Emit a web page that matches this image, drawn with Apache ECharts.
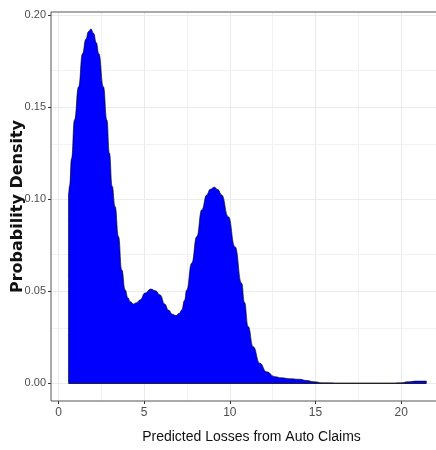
<!DOCTYPE html>
<html>
<head>
<meta charset="utf-8">
<script src="https://cdn.jsdelivr.net/npm/echarts@6/dist/echarts.min.js"></script>
<style>
html,body{margin:0;padding:0;background:#fff;}
#chart{width:436px;height:450px;}
</style>
</head>
<body>
<div id="chart"></div>
<script>
// Predicted losses (x) and estimated density (y)
var lossX = [0.58, 0.58, 0.64, 0.76, 0.93, 1.17, 1.40, 1.60, 1.75, 1.89, 2.05, 2.20, 2.35, 2.62, 2.82, 2.97, 3.13, 3.30, 3.50, 3.69, 3.89, 4.05, 4.18, 4.37, 4.55, 4.76, 5.05, 5.38, 5.65, 5.93, 6.20, 6.41, 6.65, 6.86, 7.05, 7.19, 7.35, 7.48, 7.77, 8.07, 8.36, 8.65, 8.85, 9.09, 9.30, 9.52, 9.91, 10.30, 10.69, 10.85, 11.07, 11.36, 11.75, 12.14, 12.63, 13.0, 13.5, 14.08, 14.5, 14.86, 15.44, 16.5, 18.0, 19.5, 20.0, 20.4, 20.9, 21.47, 21.47];
var densityY = [0, 0.103, 0.107, 0.122, 0.143, 0.161, 0.179, 0.187, 0.191, 0.1924, 0.190, 0.185, 0.179, 0.161, 0.143, 0.125, 0.107, 0.096, 0.0797, 0.0616, 0.0507, 0.0465, 0.0444, 0.0431, 0.0438, 0.0453, 0.0490, 0.0512, 0.0503, 0.0480, 0.0430, 0.0398, 0.0375, 0.0368, 0.0380, 0.0398, 0.0450, 0.0507, 0.0652, 0.0797, 0.0942, 0.1023, 0.1053, 0.1065, 0.1052, 0.1023, 0.0905, 0.0742, 0.0543, 0.0440, 0.0308, 0.0199, 0.0109, 0.0063, 0.0036, 0.0030, 0.0025, 0.0022, 0.0015, 0.0009, 0.0003, 0.0002, 0.0002, 0.0002, 0.0003, 0.0008, 0.0012, 0.0012, 0];
var xTicks = [0, 5, 10, 15, 20];
var xMinor = [2.5, 7.5, 12.5, 17.5, 22.5];
var yTicks = [0, 0.05, 0.10, 0.15, 0.20];
var yMinor = [0.025, 0.075, 0.125, 0.175];
var xTitle = 'Predicted Losses from Auto Claims';
var yTitle = 'Probability Density';

var sans = "'Liberation Sans', Arial, sans-serif";
var points = lossX.map(function (x, i) { return [x, densityY[i]]; });

var gridLines = [];
xMinor.forEach(function (v) { gridLines.push({ xAxis: v, lineStyle: { color: '#f2f2f2', width: 1, type: 'solid' } }); });
yMinor.forEach(function (v) { gridLines.push({ yAxis: v, lineStyle: { color: '#f2f2f2', width: 1, type: 'solid' } }); });
xTicks.forEach(function (v) { gridLines.push({ xAxis: v, lineStyle: { color: '#ebebeb', width: 1, type: 'solid' } }); });
yTicks.forEach(function (v) { gridLines.push({ yAxis: v, lineStyle: { color: '#ebebeb', width: 1, type: 'solid' } }); });

var chart = echarts.init(document.getElementById('chart'), null, { renderer: 'canvas' });
chart.setOption({
  animation: false,
  backgroundColor: '#ffffff',
  grid: {
    left: 51, top: 12, bottom: 49, right: -7,
    containLabel: false, outerBoundsMode: 'none',
    show: true, borderColor: '#555555', borderWidth: 1, backgroundColor: 'transparent', z: 10
  },
  xAxis: {
    type: 'value', min: -0.44, max: 22.44,
    axisLine: { show: false, onZero: false },
    splitLine: { show: false },
    axisTick: { show: true, length: 3, inside: false, customValues: xTicks, lineStyle: { color: '#333333' } },
    axisLabel: { customValues: xTicks, margin: 6, color: '#4d4d4d', fontFamily: sans, fontSize: 12 },
    name: xTitle, nameLocation: 'middle', nameGap: 29, nameMoveOverlap: false,
    nameTextStyle: { fontFamily: sans, fontSize: 14, color: '#111111', padding: [0, 0, 0, 9] }
  },
  yAxis: {
    type: 'value', min: -0.0096, max: 0.2016,
    axisLine: { show: false, onZero: false },
    splitLine: { show: false },
    axisTick: { show: true, length: 3, inside: false, customValues: yTicks, lineStyle: { color: '#333333' } },
    axisLabel: { customValues: yTicks, margin: 5, color: '#4d4d4d', fontFamily: sans, fontSize: 11,
      formatter: function (v) { return v.toFixed(2); } },
    name: yTitle, nameLocation: 'middle', nameGap: 25, nameMoveOverlap: false,
    nameTextStyle: { fontFamily: "'DejaVu Sans', sans-serif", fontWeight: 'bold', fontSize: 16, color: '#111111' }
  },
  series: [
    {
      type: 'line', data: [], z: 1, silent: true,
      markLine: { silent: true, symbol: 'none', z: 1, label: { show: false }, data: gridLines }
    },
    {
      type: 'line', data: points, z: 3, showSymbol: false, smooth: 0.5, smoothMonotone: 'x',
      lineStyle: { color: '#000000', width: 0.6 },
      areaStyle: { color: '#0000ff', opacity: 1 },
      itemStyle: { color: '#0000ff' },
      markLine: { silent: true, symbol: 'none', z: 4, label: { show: false },
        lineStyle: { color: '#222222', width: 1, type: 'solid' },
        data: [[{ coord: [lossX[0], 0] }, { coord: [lossX[lossX.length - 1], 0] }]] }
    }
  ]
});
</script>
</body>
</html>
